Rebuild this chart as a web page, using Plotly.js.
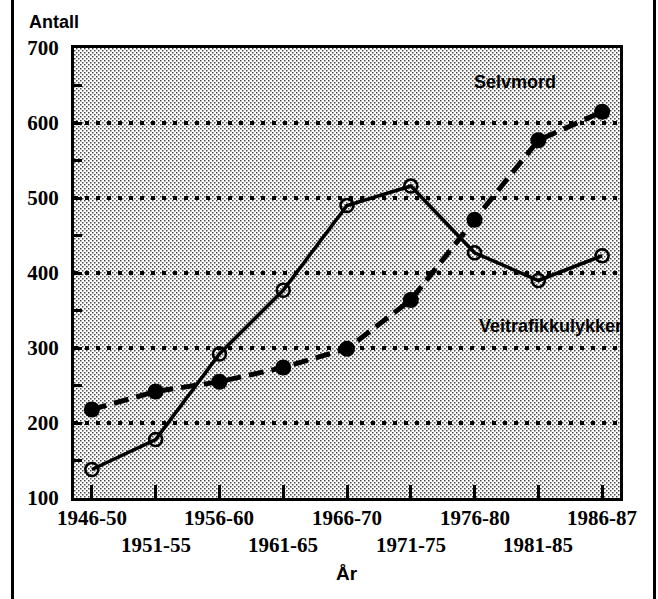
<!DOCTYPE html>
<html>
<head>
<meta charset="utf-8">
<script src="https://cdn.plot.ly/plotly-3.0.1.min.js"></script>
<style>
  html, body { margin: 0; padding: 0; background: #fff; }
  #wrap { position: relative; width: 658px; height: 599px; overflow: hidden; }
  #chart { position: absolute; left: 0; top: 0; width: 658px; height: 599px; }
  .vline { position: absolute; top: 0; width: 3px; height: 599px; background: #000; }
</style>
</head>
<body>
<div id="wrap">
  <div id="chart"></div>
  <div class="vline" style="left:11px"></div>
  <div class="vline" style="left:653px"></div>
</div>
<script>
// Periods (x categories)
const periods = ["1946-50", "1951-55", "1956-60", "1961-65", "1966-70",
                 "1971-75", "1976-80", "1981-85", "1986-87"];
// Deaths per year (Antall)
const veitrafikk = [138, 178, 292, 377, 490, 516, 427, 390, 423];
const selvmord   = [218, 242, 255, 274, 299, 364, 471, 577, 615];

const serifFont = "Liberation Serif";
const sansFont = "Liberation Sans";

const traces = [
  {
    x: periods, y: veitrafikk, type: "scatter", mode: "lines+markers",
    name: "Veitrafikkulykker",
    line: { color: "#000", width: 3.5 },
    marker: { symbol: "circle-open", size: 13, color: "#000", line: { width: 2.6, color: "#000" } },
    cliponaxis: false
  },
  {
    x: periods, y: selvmord, type: "scatter", mode: "lines+markers",
    name: "Selvmord",
    line: { color: "#000", width: 5, dash: "15px,8px" },
    marker: { symbol: "circle", size: 16, color: "#000" },
    cliponaxis: false
  }
];

const annotations = periods.map((p, i) => ({
  x: p, xref: "x", y: 0, yref: "paper",
  text: p, showarrow: false,
  xanchor: "center", yanchor: "middle",
  yshift: i % 2 === 0 ? -20 : -47,
  font: { family: serifFont, size: 21, color: "#000", weight: "bold" }
}));

annotations.push(
  { x: "1966-70", xref: "x", y: 0, yref: "paper", text: "År", showarrow: false,
    xanchor: "center", yanchor: "middle", yshift: -75,
    font: { family: sansFont, size: 19, color: "#000", weight: "bold" } },
  { x: 0, xref: "paper", y: 1, yref: "paper", text: "Antall", showarrow: false,
    xanchor: "left", yanchor: "middle", xshift: -47, yshift: 26,
    font: { family: sansFont, size: 18, color: "#000", weight: "bold" } },
  { x: "1981-85", xref: "x", y: 655, yref: "y", text: "Selvmord", showarrow: false,
    xanchor: "center", yanchor: "middle", xshift: -23,
    font: { family: sansFont, size: 18, color: "#000", weight: "bold" } },
  { x: 1, xref: "paper", y: 330, yref: "y", text: "Veitrafikkulykker", showarrow: false,
    xanchor: "right", yanchor: "middle", xshift: 4,
    font: { family: sansFont, size: 18, color: "#000", weight: "bold" } }
);

const layout = {
  width: 658, height: 599,
  margin: { l: 74, r: 38, t: 48, b: 101 },
  paper_bgcolor: "#fff",
  plot_bgcolor: "#c8c8c8",
  showlegend: false,
  xaxis: {
    type: "category",
    range: [-0.28, 8.28],
    showticklabels: false,
    ticks: "inside", ticklen: 13, tickwidth: 3, tickcolor: "#000",
    showgrid: false, zeroline: false,
    showline: true, linecolor: "#000", linewidth: 3, mirror: true
  },
  yaxis: {
    range: [100, 700],
    tickvals: [100, 200, 300, 400, 500, 600, 700],
    ticks: "inside", ticklen: 8, tickwidth: 3, tickcolor: "#000",
    minor: { dtick: 50, tick0: 0, ticks: "inside", ticklen: 8, tickwidth: 3, tickcolor: "#000", showgrid: false },
    tickfont: { family: serifFont, size: 21, color: "#000", weight: "bold" },
    ticklabelstandoff: 8,
    showgrid: true, gridcolor: "#000", gridwidth: 3.5, griddash: "4px,7px",
    zeroline: false,
    showline: true, linecolor: "#000", linewidth: 3, mirror: true
  },
  annotations: annotations
};

Plotly.newPlot("chart", traces, layout, { displayModeBar: false, staticPlot: true }).then(gd => {
  // stippled plot background like the printed original
  const svg = gd.querySelector("svg.main-svg");
  const ns = "http://www.w3.org/2000/svg";
  const defs = document.createElementNS(ns, "defs");
  const pat = document.createElementNS(ns, "pattern");
  pat.setAttribute("id", "stipple");
  pat.setAttribute("patternUnits", "userSpaceOnUse");
  pat.setAttribute("width", "4");
  pat.setAttribute("height", "4");
  const bgr = document.createElementNS(ns, "rect");
  bgr.setAttribute("width", "4"); bgr.setAttribute("height", "4"); bgr.setAttribute("fill", "#ffffff");
  pat.appendChild(bgr);
  [[0, 0], [2, 2]].forEach(([px, py]) => {
    const d = document.createElementNS(ns, "rect");
    d.setAttribute("x", px); d.setAttribute("y", py);
    d.setAttribute("width", "1.5"); d.setAttribute("height", "1.5");
    d.setAttribute("fill", "#4a4a4a");
    pat.appendChild(d);
  });
  defs.appendChild(pat);
  svg.insertBefore(defs, svg.firstChild);
  gd.querySelectorAll("rect.bg").forEach(r => { r.style.fill = "url(#stipple)"; });
});
</script>
</body>
</html>
